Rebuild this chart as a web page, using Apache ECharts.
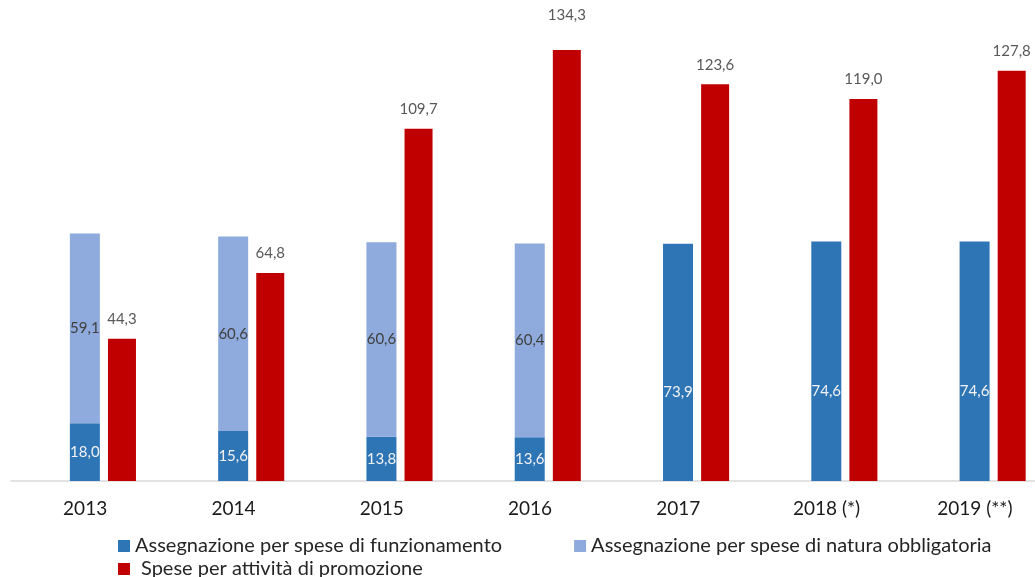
<!DOCTYPE html>
<html>
<head>
<meta charset="utf-8">
<script src="https://cdn.jsdelivr.net/npm/echarts@6/dist/echarts.min.js"></script>
<style>html,body{margin:0;padding:0;background:#fff;overflow:hidden}#c{width:1049px;height:577px}</style>
</head>
<body>
<div id="c"></div>
<script>
var categories = ['2013', '2014', '2015', '2016', '2017', '2018 (*)', '2019 (**)'];
var funzionamento = [18.0, 15.6, 13.8, 13.6, 73.9, 74.6, 74.6];
var obbligatoria = [59.1, 60.6, 60.6, 60.4, null, null, null];
var promozione = [44.3, 64.8, 109.7, 134.3, 123.6, 119.0, 127.8];
var seriesNames = ['Assegnazione per spese di funzionamento', 'Assegnazione per spese di natura obbligatoria', 'Spese per attività di promozione'];

var FONT = 'Lato';
function fmt(p) { return p.value == null ? '' : Number(p.value).toFixed(1).replace('.', ','); }

var chart = echarts.init(document.getElementById('c'), null, {renderer: 'canvas'});
chart.setOption({
  animation: false,
  textStyle: {fontFamily: FONT},
  grid: {left: 11, right: 0, top: 31.6, bottom: 96, containLabel: false},
  xAxis: {
    type: 'category', data: categories,
    axisLine: {lineStyle: {color: '#D9D9D9', width: 1.5}},
    axisTick: {show: false},
    axisLabel: {color: '#1a1a1a', fontSize: 19, margin: 18, fontFamily: FONT}
  },
  yAxis: {type: 'value', min: 0, max: 140, show: false, splitLine: {show: false}},
  legend: [
    {data: [seriesNames[0], seriesNames[1]], left: 113, top: 531, itemWidth: 12, itemHeight: 12, icon: 'rect', itemGap: 72,
     textStyle: {fontSize: 20, color: '#262626', fontFamily: FONT}},
    {data: [seriesNames[2]], left: 113, top: 554, itemWidth: 12, itemHeight: 12, icon: 'rect',
     textStyle: {fontSize: 20, color: '#262626', fontFamily: FONT, padding: [0, 0, 0, 6]}}
  ],
  series: [
    {name: 'spacer', type: 'bar', stack: 'ghost', barWidth: 28, barGap: '27%', data: categories.map(function(){return null;}), silent: true},
    {name: seriesNames[0], type: 'bar', stack: 'a', barWidth: 30, barGap: '27%', itemStyle: {color: '#2E75B6'},
     data: funzionamento.map(function (v, i) { return i >= 4 ? {value: v, label: {offset: [0, 30]}} : v; }),
     label: {show: true, position: 'inside', color: '#F2F2F2', fontSize: 15, fontFamily: FONT, formatter: fmt}},
    {name: seriesNames[1], type: 'bar', stack: 'a', barWidth: 30, barGap: '27%', itemStyle: {color: '#8FAADC'},
     data: obbligatoria,
     label: {show: true, position: 'inside', color: '#404040', fontSize: 15, fontFamily: FONT, formatter: fmt}},
    {name: seriesNames[2], type: 'bar', stack: 'r', barWidth: 28, barGap: '27%', itemStyle: {color: '#C00000'},
     data: promozione.map(function (v, i) { return i === 3 ? {value: v, label: {distance: 27}} : v; }),
     label: {show: true, position: 'top', distance: 12, color: '#595959', fontSize: 15, fontFamily: FONT, formatter: fmt}}
  ]
});
</script>
</body>
</html>
